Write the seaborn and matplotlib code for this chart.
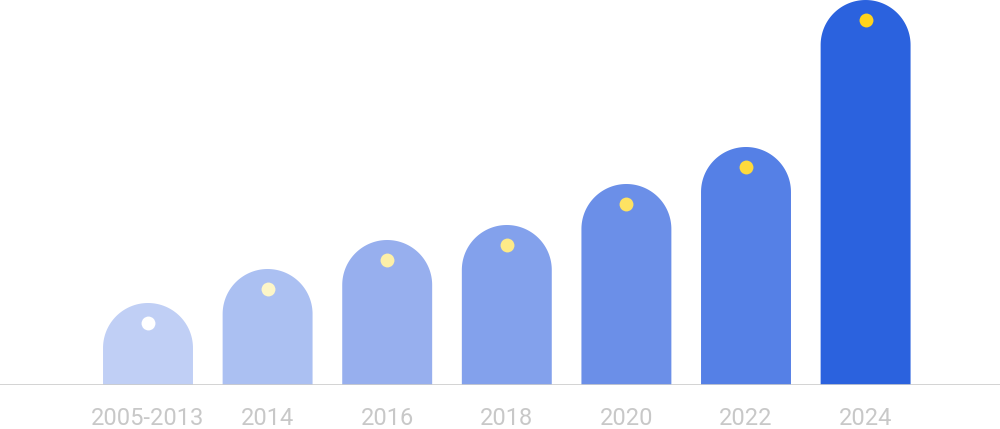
import numpy as np
import pandas as pd
import matplotlib.pyplot as plt
import seaborn as sns
from matplotlib.patches import Polygon

# data
years = ['2005-2013', '2014', '2016', '2018', '2020', '2022', '2024']
values = [82, 116, 145, 160, 201, 238, 385]
bar_colors = ['#C0CFF5', '#ABC0F2', '#97AFEE', '#83A1EC', '#6B8FE8', '#5580E6', '#2B62DE']
dot_colors = ['#FFFFFF', '#FDF6C8', '#FDF0A8', '#FDEA88', '#FEE262', '#FEDA3C', '#FFD31C']

df = pd.DataFrame({'year': years, 'value': values})

sns.set_style('white')
plt.rcParams['font.family'] = ['Roboto', 'DejaVu Sans']

fig = plt.figure(figsize=(10, 4.29), dpi=100)
ax = fig.add_axes([0, 44 / 429, 1, 385 / 429])

sns.barplot(data=df, x='year', y='value', hue='year', palette=bar_colors,
            legend=False, width=0.752, ax=ax, saturation=1)

ax.set_xlim(-148 / 119.6, (1000 - 148) / 119.6)
ax.set_ylim(0, 385)

# pixel -> data conversion
px_per_y = (ax.transData.transform((0, 1))[1] - ax.transData.transform((0, 0))[1])

# turn every seaborn bar into a bar with a round top (one shape, no seam)
t = np.linspace(0, np.pi, 80)
for i, p in list(enumerate(ax.patches)):
    x0 = p.get_x()
    w = p.get_width()
    h = p.get_height()
    w_px = ax.transData.transform((w, 0))[0] - ax.transData.transform((0, 0))[0]
    r_y = (w_px / 2) / px_per_y
    cx = x0 + w / 2
    cy = h - r_y
    arc = np.column_stack([cx + (w / 2) * np.cos(t), cy + r_y * np.sin(t)])
    pts = np.vstack([[x0 + w, 0], arc, [x0, 0]])
    ax.add_patch(Polygon(pts, closed=True, facecolor=p.get_facecolor(),
                         edgecolor='none', zorder=2))
    p.set_visible(False)
    ax.scatter(cx, h - 20 / px_per_y, s=100, color=dot_colors[i],
               zorder=5, linewidths=0)

ax.axhline(0, color='#CCCCCC', lw=1.2, zorder=6)

ax.set_xlabel('')
ax.set_ylabel('')
ax.set_yticks([])
ax.tick_params(axis='x', length=0, pad=16, labelsize=17, labelcolor='#C8C8C8')
sns.despine(ax=ax, left=True, bottom=True)

plt.savefig('out.png', dpi=100)
